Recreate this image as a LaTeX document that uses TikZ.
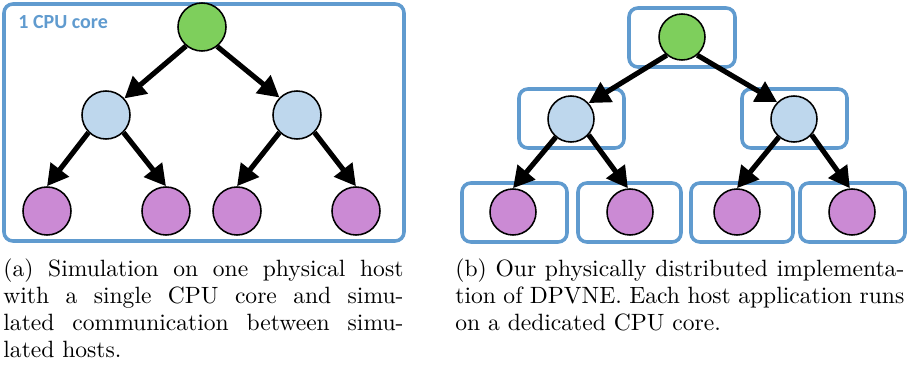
\documentclass[tikz,border=0pt]{standalone}
\usepackage{fontspec}
\newfontfamily\labelfont{Carlito}
\usetikzlibrary{arrows.meta}
\definecolor{coreblue}{RGB}{96,155,207}
\definecolor{rootgreen}{RGB}{126,207,92}
\definecolor{midblue}{RGB}{190,215,237}
\definecolor{leafpurple}{RGB}{203,138,212}
\begin{document}
\begin{tikzpicture}[x=0.45pt,y=-0.45pt,
  host/.style={circle,draw=black,line width=0.7pt,inner sep=0pt},
  hostl/.style={host,minimum size=21.6pt},
  hostr/.style={host,minimum size=20.7pt},
  rootnode/.style={fill=rootgreen},
  midnode/.style={fill=midblue},
  leafnode/.style={fill=leafpurple},
  corebox/.style={draw=coreblue,line width=1.6pt,rounded corners=4pt},
  link/.style={line width=2.3pt,-{Triangle[length=9.5pt,width=10pt]}},
  caption/.style={inner sep=0pt,anchor=north west,align=justify,font=\fontsize{10.6}{12.15}\selectfont},
]
\useasboundingbox (0,0) rectangle (907,367);

% (a) all hosts simulated on a single core
\draw[corebox] (4,4) rectangle (404,241);
\node[anchor=west,inner sep=0pt,text=coreblue,font=\labelfont\bfseries\fontsize{9}{11}\selectfont] (corelabel) at (18,22) {1 CPU core};

\node[hostl,rootnode] (a0) at (202,27) {};
\node[hostl,midnode]  (a1) at (106,115) {};
\node[hostl,midnode]  (a2) at (297,115) {};
\node[hostl,leafnode] (a3) at (47,211) {};
\node[hostl,leafnode] (a4) at (166,211) {};
\node[hostl,leafnode] (a5) at (237,211) {};
\node[hostl,leafnode] (a6) at (356,211) {};

\draw[link] (a0.230) -- (a1.42);
\draw[link] (a0.-52) -- (a2.135);
\draw[link] (a1.225) -- (a3.90);
\draw[link] (a1.-45) -- (a4.90);
\draw[link] (a2.225) -- (a5.90);
\draw[link] (a2.-45) -- (a6.90);

% (b) one core per host
\draw[corebox] (629,8) rectangle (735,67);
\draw[corebox] (519,89) rectangle (624,148);
\draw[corebox] (742,89) rectangle (847,148);
\draw[corebox] (462,183) rectangle (567,242);
\draw[corebox] (578,183) rectangle (681,242);
\draw[corebox] (691,183) rectangle (793,242);
\draw[corebox] (800,183) rectangle (905,242);

\node[hostr,rootnode] (b0) at (682,37) {};
\node[hostr,midnode]  (b1) at (571,119) {};
\node[hostr,midnode]  (b2) at (794,119) {};
\node[hostr,leafnode] (b3) at (513,212) {};
\node[hostr,leafnode] (b4) at (630,212) {};
\node[hostr,leafnode] (b5) at (737,212) {};
\node[hostr,leafnode] (b6) at (852,212) {};

\draw[link] (b0.230) -- (b1.42);
\draw[link] (b0.-50) -- (b2.135);
\draw[link] (b1.230) -- (b3.90);
\draw[link] (b1.-42) -- (b4.95);
\draw[link] (b2.230) -- (b5.90);
\draw[link] (b2.-42) -- (b6.95);

% captions
\node[caption,text width=180pt] (capa) at (3,258)
  {(a) Simulation on one physical host\linebreak with a single CPU core and simu-\linebreak lated communication between simu-\linebreak lated hosts.};
\node[caption,text width=202pt] (capb) at (455,258)
  {(b) Our physically distributed implementa-\linebreak tion of DPVNE. Each host application runs\linebreak on a dedicated CPU core.};
\end{tikzpicture}
\end{document}
